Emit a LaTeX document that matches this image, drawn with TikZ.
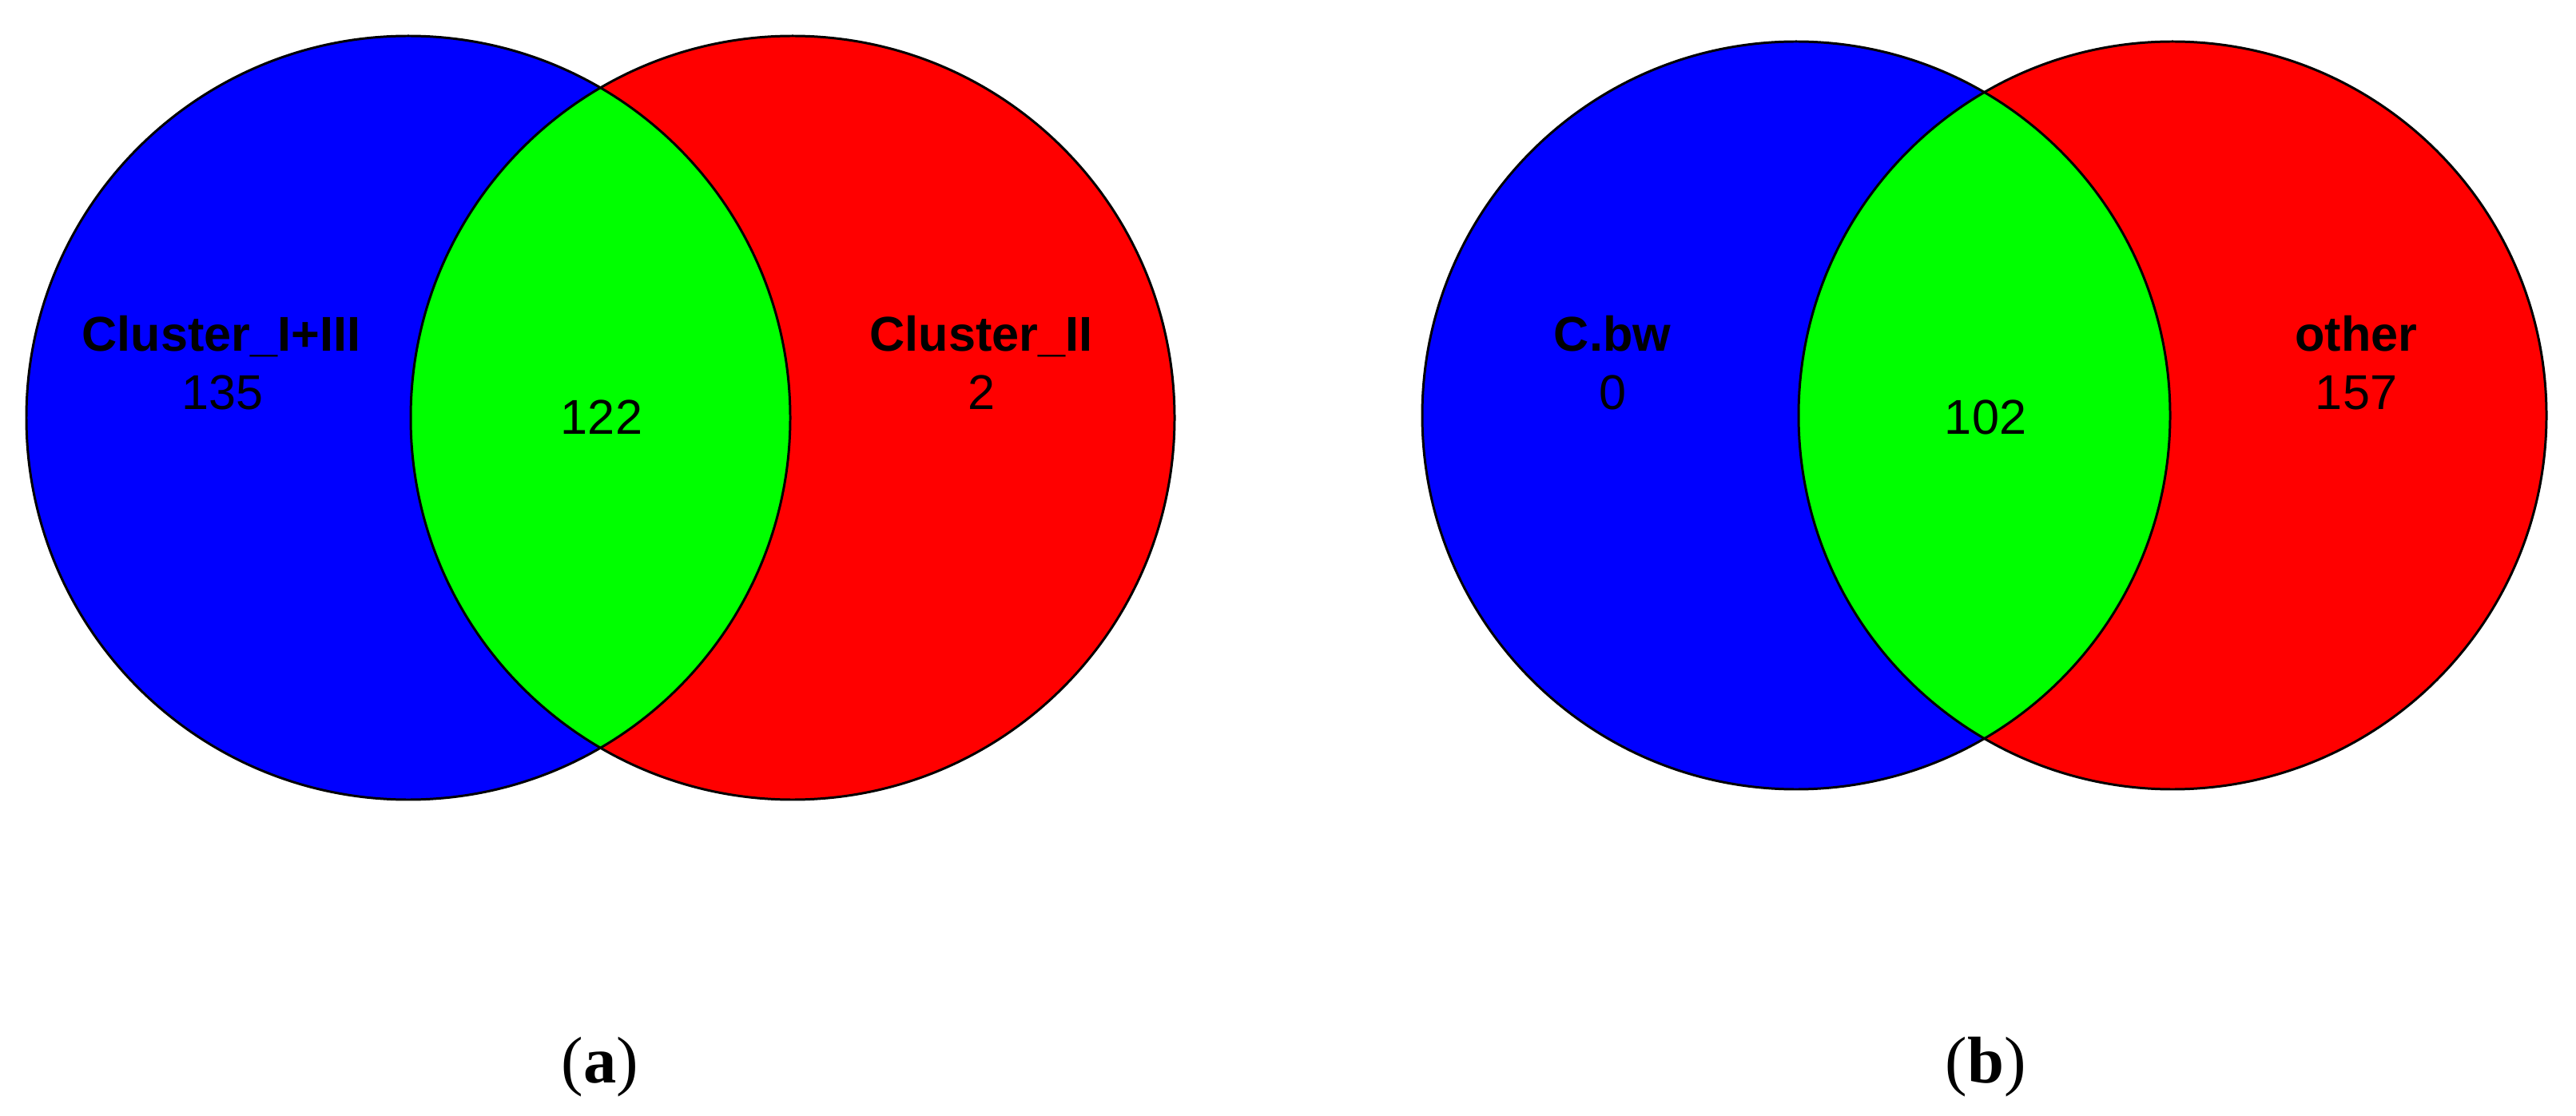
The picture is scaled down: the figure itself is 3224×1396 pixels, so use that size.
\documentclass[tikz,border=0pt]{standalone}
\usepackage{fontspec}
\setmainfont{Liberation Serif}
\newfontfamily\vsans{Liberation Sans}
\definecolor{vblue}{RGB}{0,0,255}
\definecolor{vred}{RGB}{255,0,0}
\definecolor{vgreen}{RGB}{0,255,0}
\begin{document}
\begin{tikzpicture}[x=0.01cm,y=0.01cm,
  setname/.style={anchor=base,inner sep=0pt,font=\vsans\bfseries\fontsize{17.4}{20}\selectfont},
  setnum/.style={anchor=base,inner sep=0pt,font=\vsans\fontsize{17.4}{20}\selectfont},
  caption/.style={anchor=base,inner sep=0pt,font=\fontsize{23.5}{28}\selectfont},
  outline/.style={draw=black,line width=0.85pt}]
\useasboundingbox[fill=white] (0,0) rectangle (3224,1396);
% ---- (a) ----
\coordinate (A1) at (511,873);
\coordinate (A2) at (992,873);
\fill[vblue] (A1) circle[radius=478];
\fill[vred] (A2) circle[radius=478];
\begin{scope}
  \clip (A1) circle[radius=478];
  \fill[vgreen] (A2) circle[radius=478];
\end{scope}
\draw[outline] (A1) circle[radius=478];
\draw[outline] (A2) circle[radius=478];
\node[setname] (an1) at (277,956) {Cluster\_I+III};
\node[setnum] (av1) at (279,883) {135};
\node[setnum] (av12) at (753,852) {122};
\node[setname] (an2) at (1228,956) {Cluster\_II};
\node[setnum] (av2) at (1228,883) {2};
\node[caption] (capa) at (751,41) {(\textbf{a})};
% ---- (b) ----
\coordinate (B1) at (2248,876);
\coordinate (B2) at (2719,876);
\fill[vblue] (B1) circle[radius=468];
\fill[vred] (B2) circle[radius=468];
\begin{scope}
  \clip (B1) circle[radius=468];
  \fill[vgreen] (B2) circle[radius=468];
\end{scope}
\draw[outline] (B1) circle[radius=468];
\draw[outline] (B2) circle[radius=468];
\node[setname] (bn1) at (2018,956) {C.bw};
\node[setnum] (bv1) at (2018,883) {0};
\node[setnum] (bv12) at (2485,852) {102};
\node[setname] (bn2) at (2949,956) {other};
\node[setnum] (bv2) at (2949,883) {157};
\node[caption] (capb) at (2485,41) {(\textbf{b})};
\end{tikzpicture}
\end{document}
